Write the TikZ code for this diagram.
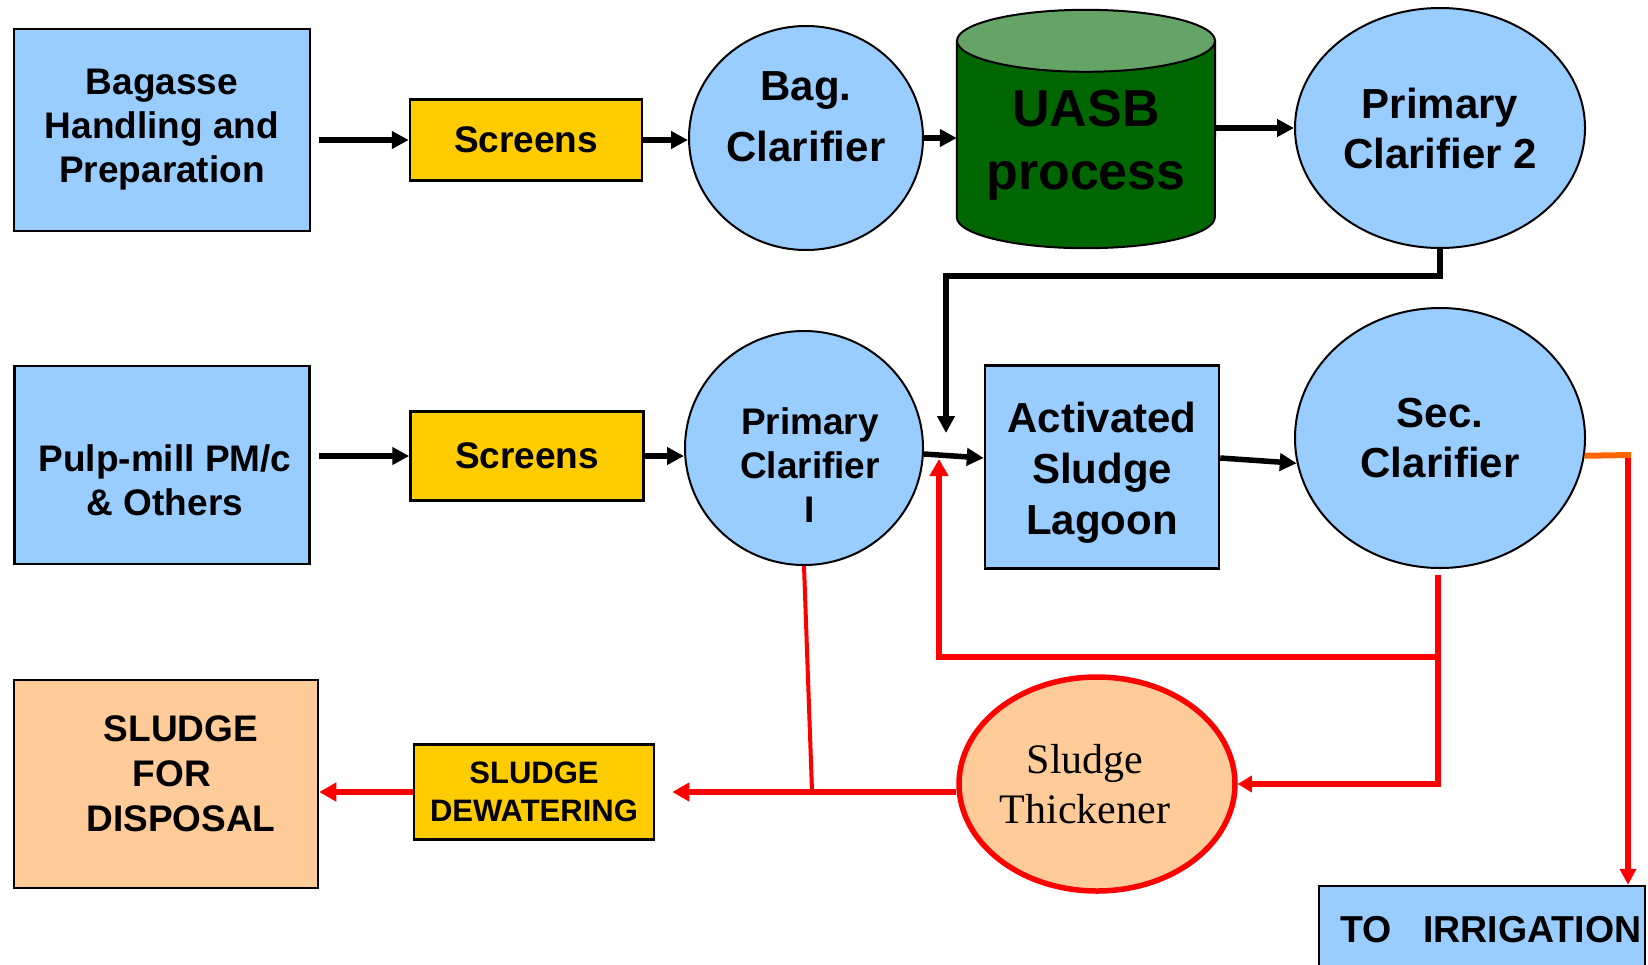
\documentclass[tikz,border=0pt]{standalone}
\usepackage{fontspec}
\setmainfont{Liberation Sans}
\newfontfamily\timesfont{Liberation Serif}
\usetikzlibrary{arrows.meta,positioning,shapes.geometric}
\definecolor{lightblue}{HTML}{99CCFF}
\definecolor{screenyellow}{HTML}{FFCC00}
\definecolor{peach}{HTML}{FFCC99}
\definecolor{uasbgreen}{HTML}{006600}
\definecolor{uasbtop}{HTML}{66A366}
\definecolor{overflow}{HTML}{FF6600}
\tikzset{
    unit/.style={rectangle,draw,line width=2.5pt,fill=lightblue,align=center,inner sep=0pt},
    screen/.style={rectangle,draw,line width=2.5pt,fill=screenyellow,align=center,inner sep=0pt},
    clarifier/.style={ellipse,draw,line width=2pt,fill=lightblue,align=center,inner sep=0pt},
    flow/.style={-{Triangle[length=17pt,width=17pt]},line width=5.5pt},
    sludge/.style={-{Triangle[length=17pt,width=18pt]},red,line width=6pt},
    sludge line/.style={red,line width=6pt},
    thin sludge/.style={red,line width=4pt}
}
\begin{document}
\begin{tikzpicture}[x=1pt,y=-1pt]
\useasboundingbox (0,0) rectangle (1648,964);

% top row: bagasse line
\node[unit,minimum width=296pt,minimum height=202pt,font=\fontsize{37}{44}\selectfont\bfseries]
    (bagasse) at (162,130) {Bagasse\\Handling and\\Preparation};
\node[screen,minimum width=232pt,minimum height=81pt,font=\fontsize{37}{44}\selectfont\bfseries]
    (screens top) at (526,140) {Screens};
\node[clarifier,minimum width=234pt,minimum height=224pt,
    label={[font=\fontsize{42}{61}\selectfont\bfseries,align=center,yshift=21pt]center:{Bag.\\Clarifier}}]
    (bag clar) at (806,138) {};
\node[minimum width=258pt,minimum height=238pt,inner sep=0pt] (uasb) at (1086,129) {};
\draw[line width=2pt,fill=uasbgreen] ([yshift=-31pt]uasb.north west) -- ([yshift=31pt]uasb.south west)
    arc[start angle=180,end angle=360,x radius=129pt,y radius=31pt] -- ([yshift=-31pt]uasb.north east) -- cycle;
\draw[line width=2pt,fill=uasbtop] ([yshift=-31pt]uasb.north) ellipse [x radius=129pt,y radius=31pt];
\node[font=\fontsize{52}{63}\selectfont\bfseries,align=center,yshift=-16pt] at (uasb.center) {UASB\\process};
\node[clarifier,minimum width=290pt,minimum height=240pt,font=\fontsize{42}{50}\selectfont\bfseries]
    (pc2) at (1440,128) {Primary\\Clarifier 2};

% middle row: pulp-mill line
\node[unit,minimum width=295pt,minimum height=198pt,
    label={[font=\fontsize{37}{44}\selectfont\bfseries,align=center,xshift=3pt,yshift=-15pt]center:{Pulp-mill PM/c\\\& Others}}]
    (pulp) at (162,465) {};
\node[screen,minimum width=233pt,minimum height=89pt,font=\fontsize{37}{44}\selectfont\bfseries]
    (screens mid) at (527,456) {Screens};
\node[clarifier,minimum width=238pt,minimum height=234pt,
    label={[font=\fontsize{37}{44}\selectfont\bfseries,align=center,xshift=6pt,yshift=-17pt]center:{Primary\\Clarifier\\I}}]
    (pc1) at (804,448) {};
\node[unit,minimum width=234pt,minimum height=203pt,
    label={[font=\fontsize{42}{51}\selectfont\bfseries,align=center,yshift=-6pt]center:{Activated\\Sludge\\Lagoon}}]
    (asl) at (1102,467) {};
\node[clarifier,minimum width=290pt,minimum height=260pt,font=\fontsize{42}{50}\selectfont\bfseries]
    (sec) at (1440,438) {Sec.\\Clarifier};

% bottom row: sludge line
\node[ellipse,draw=red,line width=5.5pt,fill=peach,inner sep=0pt,minimum width=276pt,minimum height=214pt,
    label={[font=\fontsize{42}{50}\selectfont\timesfont,align=center,xshift=-12pt]center:{Sludge\\Thickener}}]
    (thick) at (1097,784) {};
\node[screen,minimum width=240pt,minimum height=95pt,font=\fontsize{31}{38}\selectfont\bfseries]
    (dew) at (534,792) {SLUDGE\\DEWATERING};
\node[rectangle,draw,line width=2.5pt,fill=peach,minimum width=304pt,minimum height=208pt,inner sep=0pt,
    label={[font=\fontsize{37}{45}\selectfont\bfseries,align=center,xshift=15pt,yshift=10pt]center:{SLUDGE\\FOR\rule{18pt}{0pt}\\DISPOSAL}}]
    (disp) at (166,784) {};
\node[unit,minimum width=326pt,minimum height=88pt,font=\fontsize{37.5}{44}\selectfont\bfseries,
    label={[font=\fontsize{37.5}{44}\selectfont\bfseries,xshift=9pt]center:{TO~~~IRRIGATION}}]
    (irr) at (1482,930) {};

\coordinate (merge) at (946,433);
\coordinate (split) at (1438,657);
\coordinate (return) at (939,459);
\coordinate (tee) at (812,791);
\coordinate (bend) at (1628,455);

% main flow
\draw[flow,shorten <=8pt] (bagasse.east |- screens top.west) -- (screens top.west);
\draw[flow] (screens top.east) -- (screens top.east -| bag clar.west);
\draw[flow] (bag clar.east) -- (bag clar.east -| uasb.west);
\draw[flow] (uasb.east |- pc2.west) -- (pc2.west);
\draw[flow] (pc2.south) -- ++(0,27) -| (merge);
\draw[flow,shorten <=8pt] (pulp.east |- screens mid.west) -- (screens mid.west);
\draw[flow] (screens mid.east) -- (screens mid.east -| pc1.west);
\draw[flow] ([yshift=-6pt]pc1.east) -- ([yshift=9pt]asl.west);
\draw[flow] ([yshift=9pt]asl.east) -- (sec.190);

% sludge and effluent
\draw[sludge line] ([yshift=-6pt]sec.south -| split) -- (split);
\draw[sludge] (split) -| (return);
\draw[sludge,-{Triangle[length=14pt,width=16pt]}] (split) |- (thick.east);
\draw[sludge,shorten >=17pt] (thick.west |- dew.east) -- (dew.east);
\draw[thin sludge] (pc1.south) -- (tee);
\draw[sludge] (dew.west) -- (disp.east |- dew.west);
\draw[overflow,line width=6pt] (sec.353) -- ([xshift=3pt]bend);
\draw[sludge,-{Triangle[length=16pt,width=16pt]}] ([yshift=-3pt]bend) -- (irr.north -| bend);

\end{tikzpicture}
\end{document}
